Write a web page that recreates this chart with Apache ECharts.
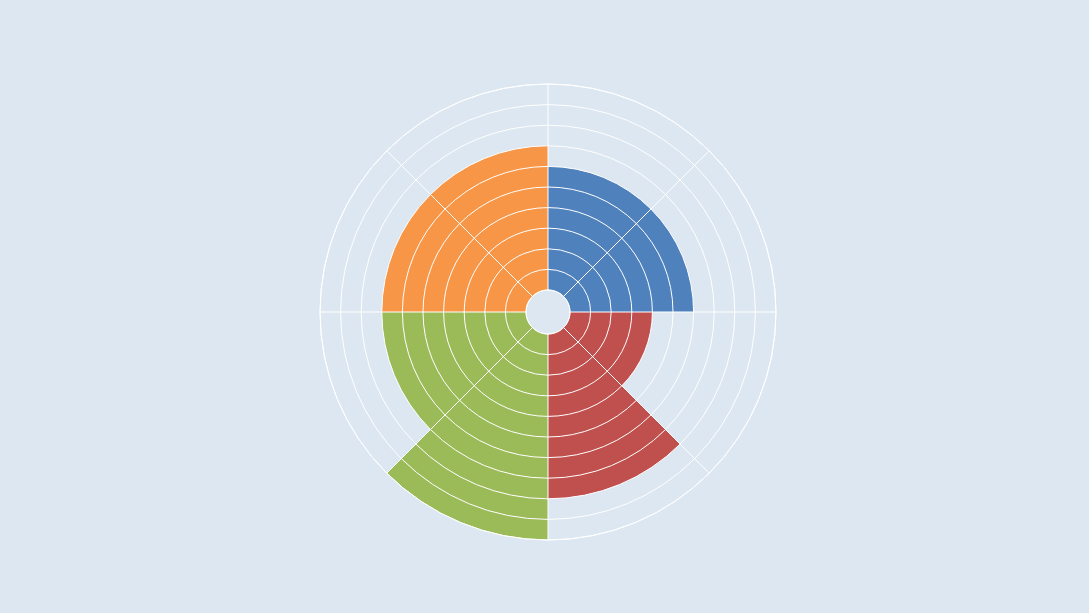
<!DOCTYPE html>
<html>
<head>
<meta charset="utf-8">
<style>
html,body{margin:0;padding:0;background:#dde7f1;}
#main{width:1089px;height:613px;}
</style>
<script src="https://cdn.jsdelivr.net/npm/echarts@6/dist/echarts.min.js"></script>
</head>
<body>
<div id="main"></div>
<script>
const categories = ['A','B','C','D','E','F','G','H'];
const values = [6, 6, 4, 8, 10, 7, 7, 7];
const colors = ['#4f81bd','#4f81bd','#c0504d','#c0504d','#9bbb59','#9bbb59','#f79646','#f79646'];
const radiusTicks = [0,1,2,3,4,5,6,7,8,9,10];

const chart = echarts.init(document.getElementById('main'));
chart.setOption({
  backgroundColor: '#dde7f1',
  animation: false,
  polar: { center: [548, 312], radius: [22, 228] },
  angleAxis: {
    type: 'category',
    data: categories,
    startAngle: 90,
    clockwise: true,
    z: 10,
    boundaryGap: true,
    axisLine: { show: true, lineStyle: { color: '#ffffff', width: 1 } },
    axisTick: { show: false },
    axisLabel: { show: false },
    splitLine: { show: true, lineStyle: { color: '#ffffff', width: 1 } }
  },
  radiusAxis: {
    type: 'value',
    min: radiusTicks[0],
    max: radiusTicks[radiusTicks.length - 1],
    interval: 1,
    z: 10,
    axisLine: { show: false },
    axisTick: { show: false },
    axisLabel: { show: false },
    splitLine: { show: true, lineStyle: { color: '#ffffff', width: 1 } }
  },
  series: [{
    type: 'bar',
    coordinateSystem: 'polar',
    barCategoryGap: '0%',
    data: values.map((v, i) => ({ value: v, itemStyle: { color: colors[i] } }))
  }]
});
</script>
</body>
</html>
